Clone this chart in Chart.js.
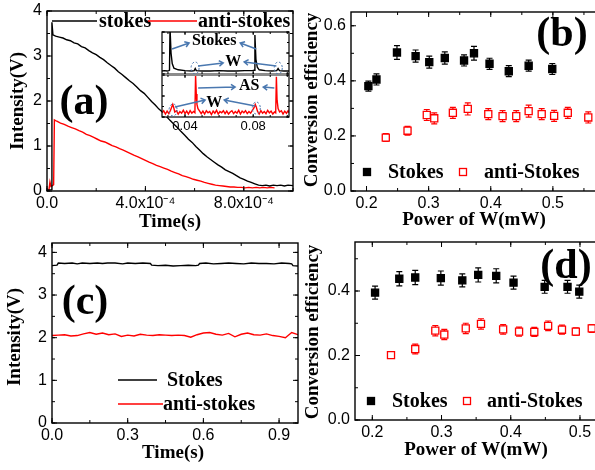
<!DOCTYPE html>
<html>
<head>
<meta charset="utf-8">
<script src="https://cdn.jsdelivr.net/npm/chart.js@4.4.0/dist/chart.umd.min.js"></script>
<style>
  html, body { margin: 0; padding: 0; background: #fff; }
  #fig { position: relative; width: 595px; height: 470px; overflow: hidden; background: #fff; }
  #fig canvas { position: absolute; }
</style>
</head>
<body>
<div id="fig">
  <canvas id="chartA"></canvas>
  <canvas id="chartB"></canvas>
  <canvas id="chartC"></canvas>
  <canvas id="chartD"></canvas>
  <canvas id="insetTop"></canvas>
  <canvas id="insetBottom"></canvas>
</div>
<script>
// ---- (a) pulse traces, time in units of 1e-4 s ----
const timeStokesA = [0, 0.18, 0.2, 0.24, 0.35, 0.5, 0.65, 0.8, 0.95, 1.1,
  1.25, 1.4, 1.55, 1.7, 1.85, 2.0, 2.15, 2.3, 2.45, 2.6,
  2.75, 2.9, 3.05, 3.2, 3.35, 3.5, 3.65, 3.8, 3.95, 4.1,
  4.25, 4.4, 4.55, 4.7, 4.85, 5.0, 5.15, 5.3, 5.45, 5.6,
  5.75, 5.9, 6.05, 6.2, 6.35, 6.5, 6.65, 6.8, 6.95, 7.1,
  7.25, 7.4, 7.55, 7.7, 7.85, 8.0, 8.15, 8.3, 8.45, 8.6,
  8.75, 8.9, 9.05, 9.2, 9.35, 9.5, 9.65, 9.8, 10.0];
const voltStokesA = [0.02, 0.03, 3.75, 3.47, 3.44, 3.42, 3.40, 3.36, 3.34, 3.29,
  3.27, 3.21, 3.18, 3.12, 3.07, 3.03, 2.97, 2.92, 2.85, 2.79,
  2.73, 2.65, 2.59, 2.52, 2.45, 2.39, 2.31, 2.23, 2.17, 2.08,
  1.99, 1.91, 1.82, 1.75, 1.66, 1.57, 1.49, 1.41, 1.32, 1.24,
  1.15, 1.08, 0.99, 0.91, 0.83, 0.76, 0.70, 0.64, 0.58, 0.53,
  0.47, 0.43, 0.39, 0.34, 0.29, 0.26, 0.22, 0.19, 0.16, 0.13,
  0.12, 0.13, 0.11, 0.13, 0.12, 0.13, 0.11, 0.13, 0.12];
const timeAntiA = [0, 0.08, 0.12, 0.16, 0.22, 0.27, 0.3, 0.4, 0.55, 0.7,
  0.85, 1.0, 1.15, 1.3, 1.45, 1.6, 1.75, 1.9, 2.05, 2.2,
  2.35, 2.5, 2.65, 2.8, 2.95, 3.1, 3.25, 3.4, 3.55, 3.7,
  3.85, 4.0, 4.15, 4.3, 4.45, 4.6, 4.75, 4.9, 5.05, 5.2,
  5.35, 5.5, 5.65, 5.8, 5.95, 6.1, 6.25, 6.4, 6.55, 6.7,
  6.85, 7.0, 7.15, 7.3, 7.45, 7.6, 7.75, 7.9, 8.05, 8.2,
  8.35, 8.5, 8.65, 8.8, 8.95, 9.1, 9.25];
const voltAntiA = [0.02, 0.03, 0.2, 0.1, 0.12, 0.14, 1.58, 1.55, 1.51, 1.48,
  1.44, 1.41, 1.38, 1.34, 1.31, 1.26, 1.23, 1.19, 1.15, 1.11,
  1.09, 1.05, 1.01, 0.98, 0.94, 0.91, 0.87, 0.83, 0.79, 0.76,
  0.72, 0.68, 0.64, 0.61, 0.57, 0.54, 0.51, 0.48, 0.44, 0.41,
  0.38, 0.34, 0.32, 0.29, 0.26, 0.24, 0.22, 0.19, 0.17, 0.15,
  0.13, 0.12, 0.11, 0.10, 0.09, 0.09, 0.08, 0.08, 0.07, 0.08,
  0.07, 0.08, 0.07, 0.08, 0.07, 0.08, 0.07];
const xTicksA = [0, 4, 8];
const xLabelsA = ['0.0', '4.0x10\u207B\u2074', '8.0x10\u207B\u2074'];
const yTicksA = [0, 1, 2, 3, 4];
const yLabelsA = ['0', '1', '2', '3', '4'];

// ---- (a) inset: spectra around the pulses ----
const insetStokesX = [0.0265, 0.028, 0.0295, 0.0305, 0.0309, 0.0312, 0.0318, 0.0325, 0.0335, 0.036,
  0.04, 0.044, 0.0454, 0.046, 0.0466, 0.05, 0.055, 0.06, 0.065, 0.07,
  0.075, 0.0795, 0.0806, 0.081, 0.0816, 0.0824, 0.0835, 0.087, 0.091, 0.0938,
  0.0946, 0.0954, 0.098, 0.101];
const insetStokesV = [0.07, 0.08, 0.07, 0.08, 0.09, 1.1, 0.5, 0.25, 0.14, 0.1,
  0.08, 0.07, 0.08, 0.13, 0.08, 0.07, 0.07, 0.08, 0.07, 0.07,
  0.08, 0.08, 0.09, 0.93, 0.35, 0.16, 0.1, 0.08, 0.07, 0.08,
  0.13, 0.08, 0.07, 0.07];
const insetAntiX = [0.0265, 0.0275, 0.0285, 0.0295, 0.0305, 0.0315, 0.0322, 0.0328, 0.0334, 0.034,
  0.035, 0.036, 0.037, 0.038, 0.039, 0.040, 0.041, 0.042, 0.043, 0.044,
  0.045, 0.0458, 0.0462, 0.0466, 0.047, 0.0476, 0.0484, 0.0495, 0.0505, 0.0515,
  0.0525, 0.0535, 0.0545, 0.0555, 0.0565, 0.0575, 0.0585, 0.0595, 0.0605, 0.0615,
  0.0625, 0.0635, 0.0645, 0.0655, 0.0665, 0.0675, 0.0685, 0.0695, 0.0705, 0.0715,
  0.0725, 0.0735, 0.0745, 0.0755, 0.0765, 0.0775, 0.0785, 0.0795, 0.0805, 0.0812,
  0.0818, 0.0825, 0.0835, 0.0845, 0.0855, 0.0865, 0.0875, 0.0885, 0.0895, 0.0905,
  0.0915, 0.0925, 0.0932, 0.0936, 0.094, 0.0946, 0.0955, 0.0965, 0.0975, 0.0985,
  0.0995, 0.1005, 0.101];
const insetAntiV = [0.10, 0.15, 0.07, 0.14, 0.08, 0.16, 0.24, 0.30, 0.22, 0.12,
  0.15, 0.07, 0.13, 0.09, 0.16, 0.08, 0.14, 0.07, 0.15, 0.09,
  0.13, 0.10, 1.00, 0.55, 0.30, 0.20, 0.15, 0.08, 0.14, 0.07,
  0.15, 0.10, 0.13, 0.06, 0.14, 0.09, 0.16, 0.07, 0.13, 0.10,
  0.15, 0.08, 0.14, 0.07, 0.12, 0.15, 0.08, 0.13, 0.09, 0.16,
  0.07, 0.14, 0.10, 0.15, 0.08, 0.13, 0.09, 0.16, 0.22, 0.30,
  0.24, 0.14, 0.07, 0.15, 0.09, 0.13, 0.08, 0.16, 0.10, 0.14,
  0.07, 0.12, 0.10, 0.96, 0.40, 0.20, 0.12, 0.15, 0.07, 0.14,
  0.09, 0.15, 0.10];
const insetTicks = [0.04, 0.08];
const insetLabels = ['0.04', '0.08'];

// ---- (b) conversion efficiency vs power of W ----
const powerStokesB = [0.203, 0.216, 0.249, 0.279, 0.301, 0.326, 0.357, 0.373, 0.398, 0.429, 0.461, 0.499];
const effStokesB = [0.381, 0.405, 0.503, 0.490, 0.468, 0.483, 0.474, 0.500, 0.462, 0.435, 0.455, 0.443];
const errStokesB = [0.018, 0.02, 0.025, 0.022, 0.022, 0.022, 0.02, 0.025, 0.02, 0.02, 0.02, 0.02];
const powerAntiB = [0.231, 0.266, 0.297, 0.309, 0.339, 0.363, 0.396, 0.419, 0.441, 0.461, 0.482, 0.502, 0.524, 0.557];
const effAntiB = [0.194, 0.219, 0.276, 0.264, 0.284, 0.298, 0.279, 0.272, 0.272, 0.290, 0.279, 0.273, 0.284, 0.267];
const errAntiB = [0.014, 0.016, 0.02, 0.02, 0.02, 0.022, 0.02, 0.02, 0.02, 0.022, 0.02, 0.02, 0.02, 0.02];
const powerTicks = [0.2, 0.3, 0.4, 0.5];
const powerLabels = ['0.2', '0.3', '0.4', '0.5'];
const yTicksB = [0, 0.2, 0.4, 0.6];
const yLabelsB = ['0.0', '0.2', '0.4', '0.6'];

// ---- (c) long-term stability, time in s ----
const timeStokesC = [0, 0.02, 0.025, 0.05, 0.08, 0.1, 0.12, 0.15, 0.18, 0.2,
  0.22, 0.25, 0.28, 0.3, 0.33, 0.36, 0.39, 0.395, 0.42, 0.45,
  0.48, 0.51, 0.54, 0.57, 0.58, 0.585, 0.61, 0.64, 0.67, 0.7,
  0.73, 0.76, 0.79, 0.82, 0.85, 0.88, 0.91, 0.94, 0.95, 0.955, 0.975];
const voltStokesC = [3.69, 3.70, 3.75, 3.74, 3.75, 3.73, 3.75, 3.74, 3.75, 3.74,
  3.75, 3.75, 3.73, 3.75, 3.74, 3.75, 3.74, 3.70, 3.69, 3.70,
  3.68, 3.69, 3.70, 3.69, 3.70, 3.74, 3.75, 3.73, 3.74, 3.75,
  3.74, 3.73, 3.75, 3.74, 3.74, 3.73, 3.75, 3.74, 3.73, 3.69, 3.68];
const timeAntiC = [0, 0.025, 0.05, 0.075, 0.1, 0.125, 0.15, 0.175, 0.2, 0.225,
  0.25, 0.275, 0.3, 0.325, 0.35, 0.375, 0.4, 0.425, 0.45, 0.475,
  0.5, 0.525, 0.55, 0.575, 0.6, 0.625, 0.65, 0.675, 0.7, 0.725,
  0.75, 0.775, 0.8, 0.825, 0.85, 0.875, 0.9, 0.925, 0.95, 0.975];
const voltAntiC = [2.05, 2.06, 2.07, 2.04, 2.05, 2.09, 2.12, 2.08, 2.11, 2.07,
  2.09, 2.03, 2.06, 2.04, 2.08, 2.06, 2.05, 2.07, 2.06, 2.05,
  2.06, 2.05, 2.01, 2.07, 2.11, 2.12, 2.08, 2.06, 2.10, 2.02,
  2.08, 2.11, 2.07, 2.06, 2.09, 2.05, 2.03, 2.00, 2.12, 2.07];
const xTicksC = [0, 0.3, 0.6, 0.9];
const xLabelsC = ['0.0', '0.3', '0.6', '0.9'];

// ---- (d) conversion efficiency, second run ----
const powerStokesD = [0.204, 0.239, 0.262, 0.299, 0.330, 0.353, 0.379, 0.404, 0.449, 0.482, 0.499];
const effStokesD = [0.395, 0.438, 0.442, 0.440, 0.433, 0.450, 0.447, 0.426, 0.413, 0.413, 0.398];
const errStokesD = [0.02, 0.022, 0.022, 0.022, 0.02, 0.022, 0.022, 0.02, 0.02, 0.02, 0.02];
const powerAntiD = [0.227, 0.262, 0.291, 0.304, 0.335, 0.357, 0.389, 0.412, 0.434, 0.454, 0.474, 0.494, 0.517];
const effAntiD = [0.201, 0.220, 0.277, 0.265, 0.284, 0.298, 0.281, 0.274, 0.273, 0.292, 0.280, 0.274, 0.284];
const errAntiD = [0.01, 0.015, 0.016, 0.016, 0.016, 0.016, 0.015, 0.014, 0.014, 0.015, 0.014, 0.012, 0.012];
const yTicksD = [0, 0.2, 0.4];
const yLabelsD = ['0.0', '0.2', '0.4'];

const SERIF = "'Liberation Serif', 'Times New Roman', serif";
const SANS = "'Liberation Sans', Arial, sans-serif";
const ARROW = '#4a78b0';
const PAD = { l: 60, t: 30, r: 30, b: 50 };

const toPoints = (xs, ys) => xs.map((x, i) => ({ x: x, y: ys[i] }));

// canvas sized so that the plot area lands on the given page box
function placeCanvas(id, area) {
  const cv = document.getElementById(id);
  cv.width = area.r - area.l + PAD.l + PAD.r;
  cv.height = area.b - area.t + PAD.t + PAD.b;
  cv.style.left = (area.l - PAD.l) + 'px';
  cv.style.top = (area.t - PAD.t) + 'px';
  return cv;
}

function axis(pos, min, max, ticks, labels, size, pad) {
  return {
    type: 'linear', position: pos, min: min, max: max,
    grid: { display: false, drawTicks: false },
    border: { display: false },
    afterBuildTicks: s => { s.ticks = ticks.map(v => ({ value: v })); },
    afterFit: s => { if (pos === 'left') s.width = PAD.l; else s.height = PAD.b; },
    ticks: {
      display: !!labels, color: '#000', padding: pad, autoSkip: false,
      maxRotation: 0, minRotation: 0,
      font: { family: SANS, size: size },
      callback: (v, i) => labels ? labels[i] : ''
    }
  };
}

const steps = (min, max, step) => {
  const out = [];
  for (let v = Math.ceil(min / step - 1e-6) * step; v <= max + 1e-9; v += step) out.push(v);
  return out;
};

// frame, inward ticks, error bars, labels and legends
const decor = {
  id: 'decor',
  beforeDraw(chart, args, o) {
    if (!o.fill) return;
    const a = chart.chartArea, ctx = chart.ctx;
    ctx.save();
    ctx.fillStyle = o.fill;
    ctx.fillRect(a.left, a.top, a.right - a.left, a.bottom - a.top);
    ctx.restore();
  },
  beforeDatasetsDraw(chart) {
    const ctx = chart.ctx, ys = chart.scales.y;
    chart.data.datasets.forEach((ds, i) => {
      if (!ds.errors) return;
      ctx.save();
      ctx.strokeStyle = ds.borderColor;
      ctx.lineWidth = 1.2;
      chart.getDatasetMeta(i).data.forEach((pt, j) => {
        const top = ys.getPixelForValue(ds.data[j].y + ds.errors[j]);
        const bot = ys.getPixelForValue(ds.data[j].y - ds.errors[j]);
        ctx.beginPath();
        ctx.moveTo(pt.x, top); ctx.lineTo(pt.x, bot);
        ctx.moveTo(pt.x - 3, top); ctx.lineTo(pt.x + 3, top);
        ctx.moveTo(pt.x - 3, bot); ctx.lineTo(pt.x + 3, bot);
        ctx.stroke();
      });
      ctx.restore();
    });
  },
  afterDraw(chart, args, o) {
    const ctx = chart.ctx, a = chart.chartArea;
    const xs = chart.scales.x, ys = chart.scales.y;
    const ox = o.origin.x, oy = o.origin.y;
    ctx.save();

    ctx.strokeStyle = '#000';
    ctx.lineWidth = o.frameWidth;
    ctx.strokeRect(a.left, a.top, a.right - a.left, a.bottom - a.top);
    if (o.edge) {
      const ey = o.edge === 'bottom' ? a.bottom : a.top;
      ctx.strokeStyle = '#8c8c8c';
      ctx.lineWidth = 2;
      ctx.beginPath(); ctx.moveTo(a.left, ey); ctx.lineTo(a.right, ey); ctx.stroke();
    }

    // ticks point into the plot on all four sides
    ctx.strokeStyle = '#000';
    ctx.lineWidth = 1;
    const marks = (scale, values, len, horiz) => {
      ctx.beginPath();
      values.forEach(v => {
        const p = scale.getPixelForValue(v);
        if (horiz) {
          if (p < a.left - 0.5 || p > a.right + 0.5) return;
          ctx.moveTo(p, a.bottom); ctx.lineTo(p, a.bottom - len);
          ctx.moveTo(p, a.top); ctx.lineTo(p, a.top + len);
        } else {
          if (p < a.top - 0.5 || p > a.bottom + 0.5) return;
          ctx.moveTo(a.left, p); ctx.lineTo(a.left + len, p);
          ctx.moveTo(a.right, p); ctx.lineTo(a.right - len, p);
        }
      });
      ctx.stroke();
    };
    marks(xs, xs.ticks.map(t => t.value), o.tickLen[0], true);
    marks(xs, steps(xs.min, xs.max, o.minorX), o.tickLen[1], true);
    marks(ys, ys.ticks.map(t => t.value), o.tickLen[0], false);
    marks(ys, steps(ys.min, ys.max, o.minorY), o.tickLen[1], false);

    // annotations placed in data space
    ctx.strokeStyle = ARROW;
    (o.ellipses || []).forEach(e => {
      ctx.setLineDash([2, 2]);
      ctx.lineWidth = 1;
      ctx.beginPath();
      ctx.ellipse(xs.getPixelForValue(e[0]), ys.getPixelForValue(e[1]), 4, 6, 0, 0, Math.PI * 2);
      ctx.stroke();
    });
    ctx.setLineDash([]);
    (o.arrows || []).forEach(ar => {
      const x1 = xs.getPixelForValue(ar[0]), y1 = ys.getPixelForValue(ar[1]);
      const x2 = xs.getPixelForValue(ar[2]), y2 = ys.getPixelForValue(ar[3]);
      const ang = Math.atan2(y2 - y1, x2 - x1);
      ctx.lineWidth = 1.5;
      ctx.beginPath();
      ctx.moveTo(x1, y1); ctx.lineTo(x2, y2);
      ctx.moveTo(x2 - 5 * Math.cos(ang - 0.6), y2 - 5 * Math.sin(ang - 0.6));
      ctx.lineTo(x2, y2);
      ctx.lineTo(x2 - 5 * Math.cos(ang + 0.6), y2 - 5 * Math.sin(ang + 0.6));
      ctx.stroke();
    });
    ctx.fillStyle = '#000';
    ctx.textAlign = 'center';
    ctx.textBaseline = 'middle';
    (o.notes || []).forEach(n => {
      ctx.font = 'bold 16px ' + SERIF;
      ctx.fillText(n[0], xs.getPixelForValue(n[1]), ys.getPixelForValue(n[2]));
    });

    // axis titles and panel tags, page coordinates
    (o.texts || []).forEach(t => {
      ctx.save();
      ctx.font = 'bold ' + t.size + 'px ' + SERIF;
      ctx.translate(t.x - ox, t.y - oy);
      if (t.rotate) ctx.rotate(-Math.PI / 2);
      ctx.fillText(t.text, 0, 0);
      ctx.restore();
    });

    // legend entries built from the datasets
    ctx.textAlign = 'left';
    ctx.font = 'bold 20px ' + SERIF;
    (o.legend || []).forEach(it => {
      const ds = chart.data.datasets[it.ds];
      const y = it.y - oy;
      if (it.kind === 'line') {
        ctx.strokeStyle = ds.borderColor;
        ctx.lineWidth = ds.borderWidth;
        ctx.beginPath(); ctx.moveTo(it.x1 - ox, y); ctx.lineTo(it.x2 - ox, y); ctx.stroke();
      } else {
        ctx.fillStyle = ds.backgroundColor;
        ctx.strokeStyle = ds.borderColor;
        ctx.lineWidth = ds.borderWidth;
        ctx.fillRect(it.x1 - ox - 3.5, y - 3.5, 7, 7);
        ctx.strokeRect(it.x1 - ox - 3.5, y - 3.5, 7, 7);
      }
      ctx.fillStyle = '#000';
      ctx.fillText(ds.label, it.tx - ox, y + 1);
    });
    ctx.restore();
  }
};
Chart.register(decor);

function baseOptions(area, scales, decorOpts) {
  return {
    responsive: false, animation: false, events: [],
    layout: { padding: { left: 0, top: PAD.t, right: PAD.r, bottom: 0 } },
    scales: scales,
    plugins: {
      legend: { display: false }, tooltip: { enabled: false },
      decor: Object.assign({ origin: { x: area.l - PAD.l, y: area.t - PAD.t }, frameWidth: 1.4, tickLen: [5, 3] }, decorOpts)
    }
  };
}

const traceStyle = color => ({ borderColor: color, borderWidth: 1.4, pointRadius: 0, tension: 0 });

// Panel (a): stokes / anti-stokes pulses
const areaA = { l: 47, t: 11, r: 293, b: 191 };
new Chart(placeCanvas('chartA', areaA), {
  type: 'line',
  data: {
    datasets: [
      Object.assign({ label: 'stokes', data: toPoints(timeStokesA, voltStokesA) }, traceStyle('#000000')),
      Object.assign({ label: 'anti-stokes', data: toPoints(timeAntiA, voltAntiA) }, traceStyle('#ff0000'))
    ]
  },
  options: baseOptions(areaA, {
    x: axis('bottom', 0, 10, xTicksA, xLabelsA, 16, 3),
    y: axis('left', 0, 4, yTicksA, yLabelsA, 16, 5)
  }, {
    minorX: 2, minorY: 0.5,
    texts: [
      { text: 'Intensity(V)', x: 18, y: 101, size: 19, rotate: true },
      { text: 'Time(s)', x: 170, y: 222, size: 19 },
      { text: '(a)', x: 84, y: 103, size: 42 }
    ],
    legend: [
      { ds: 0, kind: 'line', x1: 52, x2: 97, y: 21, tx: 99 },
      { ds: 1, kind: 'line', x1: 148, x2: 197, y: 21, tx: 198 }
    ]
  })
});

// Panel (b): conversion efficiency
const areaB = { l: 351, t: 12, r: 615, b: 191 };
const markStyle = (color, fill) => ({
  borderColor: color, backgroundColor: fill, borderWidth: 1.3,
  pointStyle: 'rect', pointRadius: 5, showLine: false
});
new Chart(placeCanvas('chartB', areaB), {
  type: 'scatter',
  data: {
    datasets: [
      Object.assign({ label: 'Stokes', data: toPoints(powerStokesB, effStokesB), errors: errStokesB }, markStyle('#000000', '#000000')),
      Object.assign({ label: 'anti-Stokes', data: toPoints(powerAntiB, effAntiB), errors: errAntiB }, markStyle('#ff0000', '#ffffff'))
    ]
  },
  options: baseOptions(areaB, {
    x: axis('bottom', 0.175, 0.6, powerTicks, powerLabels, 16, 3),
    y: axis('left', 0, 0.65, yTicksB, yLabelsB, 16, 5)
  }, {
    minorX: 0.05, minorY: 0.1,
    texts: [
      { text: 'Conversion efficiency', x: 312, y: 100, size: 19, rotate: true },
      { text: 'Power of W(mW)', x: 474, y: 220, size: 19 },
      { text: '(b)', x: 562, y: 35, size: 42 }
    ],
    legend: [
      { ds: 0, kind: 'mark', x1: 367, y: 172, tx: 388 },
      { ds: 1, kind: 'mark', x1: 463, y: 172, tx: 484 }
    ]
  })
});

// Panel (c): intensity over one second
const areaC = { l: 52, t: 243, r: 298, b: 423 };
new Chart(placeCanvas('chartC', areaC), {
  type: 'line',
  data: {
    datasets: [
      Object.assign({ label: 'Stokes', data: toPoints(timeStokesC, voltStokesC) }, traceStyle('#000000')),
      Object.assign({ label: 'anti-stokes', data: toPoints(timeAntiC, voltAntiC) }, traceStyle('#ff0000'))
    ]
  },
  options: baseOptions(areaC, {
    x: axis('bottom', 0, 0.975, xTicksC, xLabelsC, 16, 3),
    y: axis('left', 0, 4.22, yTicksA, yLabelsA, 16, 5)
  }, {
    minorX: 0.15, minorY: 0.5,
    texts: [
      { text: 'Intensity(V)', x: 15, y: 337, size: 19, rotate: true },
      { text: 'Time(s)', x: 173, y: 453, size: 19 },
      { text: '(c)', x: 85, y: 303, size: 42 }
    ],
    legend: [
      { ds: 0, kind: 'line', x1: 118, x2: 157, y: 380, tx: 167 },
      { ds: 1, kind: 'line', x1: 118, x2: 163, y: 404, tx: 163 }
    ]
  })
});

// Panel (d): conversion efficiency, second run
const areaD = { l: 355, t: 242, r: 615, b: 420 };
new Chart(placeCanvas('chartD', areaD), {
  type: 'scatter',
  data: {
    datasets: [
      Object.assign({ label: 'Stokes', data: toPoints(powerStokesD, effStokesD), errors: errStokesD }, markStyle('#000000', '#000000')),
      Object.assign({ label: 'anti-Stokes', data: toPoints(powerAntiD, effAntiD), errors: errAntiD }, markStyle('#ff0000', '#ffffff'))
    ]
  },
  options: baseOptions(areaD, {
    x: axis('bottom', 0.175, 0.5506, powerTicks, powerLabels, 16, 3),
    y: axis('left', 0, 0.552, yTicksD, yLabelsD, 16, 5)
  }, {
    minorX: 0.05, minorY: 0.1,
    texts: [
      { text: 'Conversion efficiency', x: 313, y: 332, size: 19, rotate: true },
      { text: 'Power of W(mW)', x: 476, y: 450, size: 19 },
      { text: '(d)', x: 566, y: 267, size: 42 }
    ],
    legend: [
      { ds: 0, kind: 'mark', x1: 371, y: 401, tx: 392 },
      { ds: 1, kind: 'mark', x1: 467, y: 401, tx: 487 }
    ]
  })
});

// Inset of (a): Stokes trace on top, anti-Stokes trace below
const areaIT = { l: 162, t: 32, r: 289, b: 74 };
new Chart(placeCanvas('insetTop', areaIT), {
  type: 'line',
  data: { datasets: [Object.assign({ label: 'Stokes', data: toPoints(insetStokesX, insetStokesV) }, traceStyle('#000000'))] },
  options: baseOptions(areaIT, {
    x: axis('bottom', 0.0265, 0.101, insetTicks, null, 13, 2),
    y: axis('left', 0, 1, [0, 0.5, 1], null, 13, 2)
  }, {
    fill: '#ffffff', frameWidth: 1.2, tickLen: [3, 2], minorX: 0.01, minorY: 0.25, edge: 'bottom',
    notes: [['Stokes', 0.0571, 0.786], ['W', 0.0683, 0.286]],
    arrows: [
      [0.0324, 0.595, 0.0424, 0.738], [0.0818, 0.595, 0.0724, 0.738],
      [0.0477, 0.19, 0.0624, 0.262], [0.0936, 0.19, 0.0747, 0.286]
    ],
    ellipses: [[0.0459, 0.143], [0.0947, 0.143]]
  })
});

const areaIB = { l: 162, t: 75, r: 289, b: 117 };
new Chart(placeCanvas('insetBottom', areaIB), {
  type: 'line',
  data: { datasets: [Object.assign({ label: 'AS', data: toPoints(insetAntiX, insetAntiV) }, traceStyle('#ff0000'))] },
  options: baseOptions(areaIB, {
    x: axis('bottom', 0.0265, 0.101, insetTicks, insetLabels, 13, 2),
    y: axis('left', 0, 1, [0, 0.5, 1], null, 13, 2)
  }, {
    fill: '#ffffff', frameWidth: 1.2, tickLen: [3, 2], minorX: 0.01, minorY: 0.25, edge: 'top',
    notes: [['AS', 0.0777, 0.738], ['W', 0.0571, 0.333]],
    arrows: [
      [0.0477, 0.69, 0.0694, 0.714], [0.0924, 0.69, 0.0859, 0.714],
      [0.0341, 0.238, 0.0518, 0.405], [0.0812, 0.262, 0.0630, 0.405]
    ],
    ellipses: [[0.0330, 0.167], [0.0818, 0.214]]
  })
});
</script>
</body>
</html>
